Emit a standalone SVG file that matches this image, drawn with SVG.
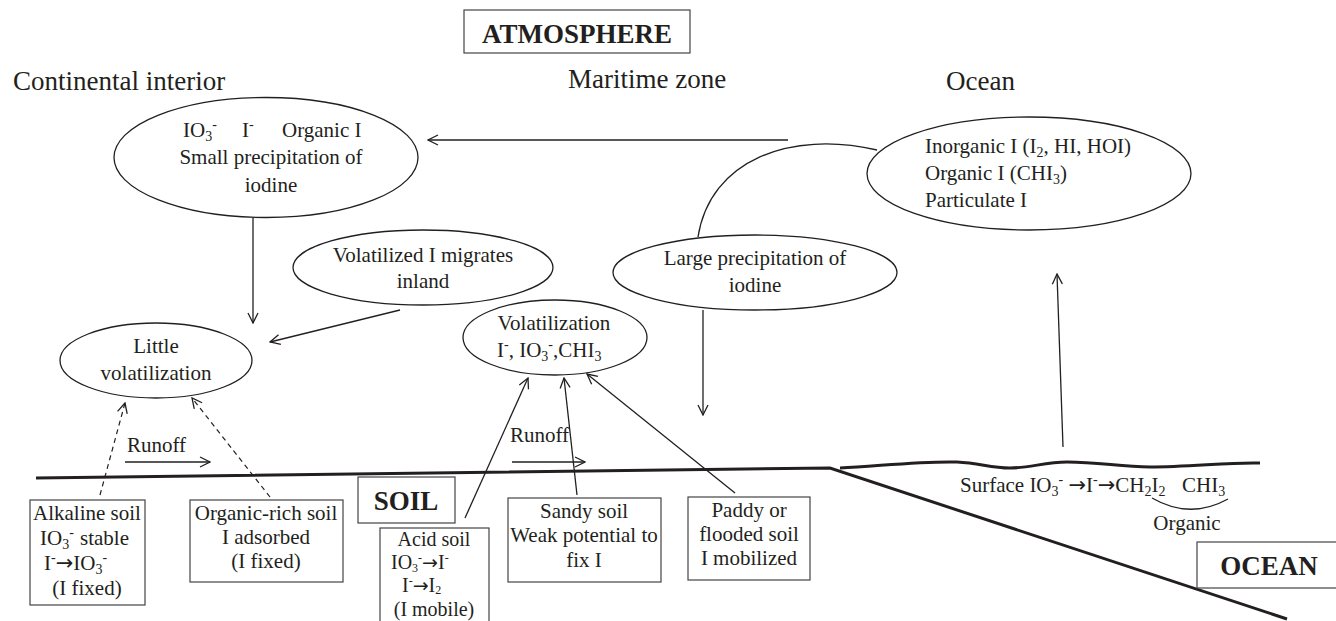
<svg xmlns="http://www.w3.org/2000/svg" width="1336" height="621" viewBox="0 0 1336 621">
<defs>
<style>
.t{font-family:"Liberation Serif","Times New Roman",serif;font-size:21px;fill:#231f20}
.h{font-size:27px}
.b{font-size:27px;font-weight:bold}
.c{text-anchor:middle}
.s{font-size:14px}
.s2{font-size:12px}
.f20{font-size:20px}
.aw{font-family:"DejaVu Sans",sans-serif;font-size:21px}
.aw2{font-family:"DejaVu Sans",sans-serif;font-size:19px}
.e{fill:#fff;stroke:#231f20;stroke-width:1.3}
.bx{fill:#fff;stroke:#444;stroke-width:1.2}
.ln{fill:none;stroke:#231f20;stroke-width:1.3}
.ar{fill:none;stroke:#231f20;stroke-width:1.3;marker-end:url(#ah)}
.da{fill:none;stroke:#231f20;stroke-width:1.2;stroke-dasharray:5,4;marker-end:url(#ah)}
.th{fill:none;stroke:#231f20;stroke-width:3}
</style>
<marker id="ah" viewBox="0 0 12 12" refX="11" refY="6" markerWidth="12" markerHeight="12" markerUnits="userSpaceOnUse" orient="auto">
<path d="M1,1 L11,6 L1,11" fill="none" stroke="#231f20" stroke-width="1.3"/>
</marker>
</defs>
<rect width="1336" height="621" fill="#fff"/>

<g id="labels">
<rect x="464" y="10" width="226" height="43" class="bx"/>
<text x="577" y="43" class="t b c">ATMOSPHERE</text>
<text x="13" y="90" class="t h">Continental interior</text>
<text x="568" y="88" class="t h">Maritime zone</text>
<text x="946" y="90" class="t h">Ocean</text>
</g>

<g id="surfaces">
<path class="th" d="M36,478 L830,468 L1287,619"/>
<path class="th" d="M840,468 C880,466 920,461 957,462 C980,463 990,468 1010,468 C1030,468 1045,462 1067,462 C1100,462 1120,467 1150,467 C1190,467 1230,462 1260,463"/>
</g>

<g id="connectors">
<path class="ar" d="M788,140 L428,140"/>
<path class="ln" d="M698,237 C710,160 790,130 877,150"/>
<path class="ar" d="M253,218 L253,323"/>
<path class="ar" d="M400,310 L270,342"/>
<path class="ar" d="M703,310 L703,415"/>
<path class="ar" d="M1063,447 L1057,274"/>
<path class="ar" d="M465,518 L528,378"/>
<path class="ar" d="M577,495 L564,378"/>
<path class="ar" d="M735,493 L587,374"/>
<path class="da" d="M100,495 L125,403"/>
<path class="da" d="M270,497 L192,398"/>
<path class="ar" d="M125,462 L210,462"/>
<path class="ar" d="M512,462 L585,462"/>
<path class="ln" d="M1152,498 Q1190,520 1228,499"/>
</g>

<g id="n-continental-precip">
<ellipse cx="266" cy="157.5" rx="152" ry="60" class="e"/>
<text y="137" class="t"><tspan x="183">IO</tspan><tspan class="s" dy="4">3</tspan><tspan class="s" dy="-12">-</tspan><tspan x="242" dy="8">I</tspan><tspan class="s" dy="-8">-</tspan><tspan x="282" dy="8">Organic I</tspan></text>
<text x="271" y="164" class="t c">Small precipitation of</text>
<text x="271" y="192" class="t c">iodine</text>
</g>

<g id="n-ocean-atm">
<ellipse cx="1029" cy="173.5" rx="162" ry="56.5" class="e"/>
<text x="925" y="153" class="t">Inorganic I (I<tspan class="s" dy="4">2</tspan><tspan dy="-4">, HI, HOI)</tspan></text>
<text x="925" y="180" class="t">Organic I (CHI<tspan class="s" dy="4">3</tspan><tspan dy="-4">)</tspan></text>
<text x="925" y="207" class="t">Particulate I</text>
</g>

<g id="n-large-precip">
<ellipse cx="755" cy="272.5" rx="142" ry="37.5" class="e"/>
<text x="755" y="265" class="t c">Large precipitation of</text>
<text x="755" y="292" class="t c">iodine</text>
</g>

<g id="n-migrates">
<ellipse cx="423" cy="267.5" rx="130" ry="37.5" class="e"/>
<text x="423" y="262" class="t c">Volatilized I migrates</text>
<text x="423" y="288" class="t c">inland</text>
</g>

<g id="n-little">
<ellipse cx="156" cy="360.5" rx="96" ry="37.5" class="e"/>
<text x="156" y="353" class="t c">Little</text>
<text x="156" y="380" class="t c">volatilization</text>
</g>

<g id="n-volatilization">
<ellipse cx="555" cy="337.5" rx="92" ry="37.5" class="e"/>
<text x="554" y="330" class="t c">Volatilization</text>
<text x="497" y="357" class="t">I<tspan class="s" dy="-8">-</tspan><tspan dy="8">, IO</tspan><tspan class="s" dy="4">3</tspan><tspan class="s" dy="-12">-</tspan><tspan dy="8">,CHI</tspan><tspan class="s" dy="4">3</tspan></text>
</g>

<g id="runoff-labels">
<text x="127" y="452" class="t">Runoff</text>
<text x="510" y="442" class="t">Runoff</text>
</g>

<g id="n-soil-label">
<rect x="358" y="477" width="97" height="46" class="bx"/>
<text x="406" y="510" class="t b c">SOIL</text>
</g>

<g id="n-alkaline">
<rect x="30" y="500" width="115" height="105" class="bx"/>
<text x="87" y="520" class="t c">Alkaline soil</text>
<text x="40" y="545" class="t">IO<tspan class="s" dy="4">3</tspan><tspan class="s" dy="-12">-</tspan><tspan x="80" dy="8">stable</tspan></text>
<text x="44" y="570" class="t">I<tspan class="s" dy="-8">-</tspan><tspan class="aw" dy="8">→</tspan><tspan>IO</tspan><tspan class="s" dy="4">3</tspan><tspan class="s" dy="-12">-</tspan></text>
<text x="87" y="595" class="t c">(I fixed)</text>
</g>

<g id="n-organic">
<rect x="190" y="500" width="153" height="82" class="bx"/>
<text x="266" y="520" class="t c">Organic-rich soil</text>
<text x="266" y="544" class="t c">I adsorbed</text>
<text x="266" y="568" class="t c">(I fixed)</text>
</g>

<g id="n-acid">
<rect x="380" y="528" width="109" height="100" class="bx"/>
<text x="434" y="546" class="t f20 c">Acid soil</text>
<text x="391" y="569" class="t f20">IO<tspan class="s2" dy="3">3</tspan><tspan class="s2" dy="-10">-</tspan><tspan class="aw2" dy="7">→</tspan><tspan>I</tspan><tspan class="s2" dy="-7">-</tspan></text>
<text x="402" y="592" class="t f20">I<tspan class="s2" dy="-7">-</tspan><tspan class="aw2" dy="7">→</tspan><tspan>I</tspan><tspan class="s2" dy="2">2</tspan></text>
<text x="434" y="616" class="t f20 c">(I mobile)</text>
</g>

<g id="n-sandy">
<rect x="508" y="498" width="153" height="84" class="bx"/>
<text x="584" y="518" class="t c">Sandy soil</text>
<text x="584" y="542" class="t c">Weak potential to</text>
<text x="584" y="567" class="t c">fix I</text>
</g>

<g id="n-paddy">
<rect x="688" y="497" width="122" height="83" class="bx"/>
<text x="749" y="517" class="t c">Paddy or</text>
<text x="749" y="541" class="t c">flooded soil</text>
<text x="749" y="565" class="t c">I mobilized</text>
</g>

<g id="n-surface">
<text x="960" y="492" class="t">Surface IO<tspan class="s" dy="4">3</tspan><tspan class="s" dy="-12">-</tspan><tspan dy="8"> </tspan><tspan class="aw">→</tspan><tspan>I</tspan><tspan class="s" dy="-8">-</tspan><tspan class="aw" dy="8">→</tspan><tspan>CH</tspan><tspan class="s" dy="4">2</tspan><tspan dy="-4">I</tspan><tspan class="s" dy="4">2</tspan><tspan x="1182" dy="-4">CHI</tspan><tspan class="s" dy="4">3</tspan></text>
<text x="1187" y="530" class="t c">Organic</text>
</g>

<g id="n-ocean-label">
<rect x="1197" y="542" width="145" height="46" class="bx"/>
<text x="1269" y="575" class="t b c">OCEAN</text>
</g>
</svg>
